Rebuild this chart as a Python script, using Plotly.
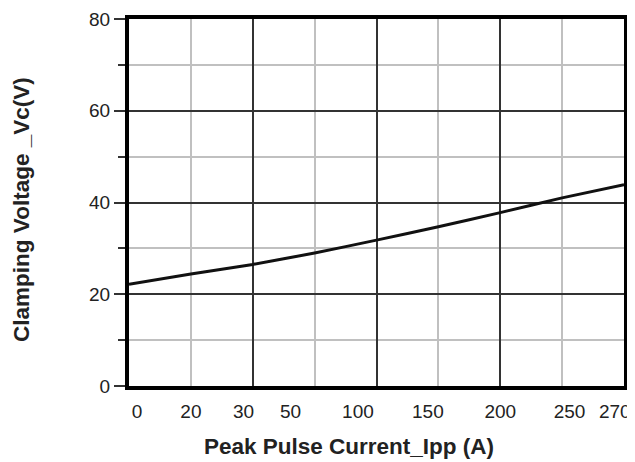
import plotly.graph_objects as go

# Axis position (grid units, 8 divisions) and clamping voltage
grid_pos = [0, 1, 2, 3, 4, 5, 6, 7, 8]
vc_values = [22.2, 24.4, 26.5, 29.0, 31.8, 34.7, 37.8, 41.0, 43.9]

# Peak pulse current tick labels and their positions along the axis
tick_labels = ["0", "20", "30", "50", "100", "150", "200", "250", "270"]
tick_pos = [0.13, 1.0, 1.85, 2.61, 3.7, 4.83, 6.0, 7.12, 7.85]

y_ticks = [0, 20, 40, 60, 80]

x_title = "Peak Pulse Current_Ipp (A)"
y_title = "Clamping Voltage _Vc(V)"

FONT = "Liberation Sans, Arial, sans-serif"
TXT = "#222222"

fig = go.Figure()
fig.add_trace(go.Scatter(
    x=grid_pos, y=vc_values, mode="lines",
    line=dict(color="#111111", width=3, shape="spline", smoothing=0.6),
    showlegend=False, hoverinfo="skip",
))
# invisible trace on the label axis
fig.add_trace(go.Scatter(x=[0, 8], y=[0, 0], xaxis="x2", mode="markers",
                         marker=dict(opacity=0), showlegend=False, hoverinfo="skip"))

# page body adds an 8px offset, so the figure is slightly smaller than the window
fig.update_layout(
    width=627, height=454,
    margin=dict(l=121, r=11, t=11, b=76),
    paper_bgcolor="white", plot_bgcolor="white",
    font=dict(family=FONT, color=TXT, size=19),
    xaxis=dict(
        range=[0, 8], tickmode="linear", tick0=0, dtick=2,
        showticklabels=False, ticks="", automargin=False,
        showgrid=True, gridcolor="#333333", gridwidth=1.5,
        minor=dict(dtick=1, tick0=0, showgrid=True, gridcolor="#c0c0c0", gridwidth=1.5, ticks=""),
        showline=True, linecolor="black", linewidth=4, mirror=True,
        zeroline=False,
    ),
    xaxis2=dict(
        range=[0, 8], overlaying="x", side="bottom", automargin=False,
        tickmode="array", tickvals=tick_pos, ticktext=tick_labels,
        ticks="", showgrid=False, zeroline=False, showline=False,
        tickfont=dict(size=19, color=TXT),
        ticklabelstandoff=12,
    ),
    yaxis=dict(
        range=[0, 80], tickmode="array", tickvals=y_ticks, automargin=False,
        ticks="outside", ticklen=11, tickwidth=1.5, tickcolor="#333333",
        showgrid=True, gridcolor="#333333", gridwidth=1.5,
        minor=dict(dtick=10, tick0=0, showgrid=True, gridcolor="#c0c0c0", gridwidth=1.5,
                   ticks="outside", ticklen=7, tickwidth=1.5, tickcolor="#333333"),
        showline=True, linecolor="black", linewidth=4, mirror=True,
        zeroline=False,
        tickfont=dict(size=19, color=TXT),
    ),
    annotations=[
        dict(text="<b>%s</b>" % x_title, xref="paper", yref="paper",
             x=0.444, y=-0.166, showarrow=False, xanchor="center", yanchor="middle",
             font=dict(size=22.5, color=TXT)),
        dict(text="<b>%s</b>" % y_title, xref="paper", yref="paper",
             x=-0.216, y=0.48, showarrow=False, xanchor="center", yanchor="middle",
             textangle=-90, font=dict(size=22.5, color=TXT)),
    ],
)

fig.write_html("out.html")
